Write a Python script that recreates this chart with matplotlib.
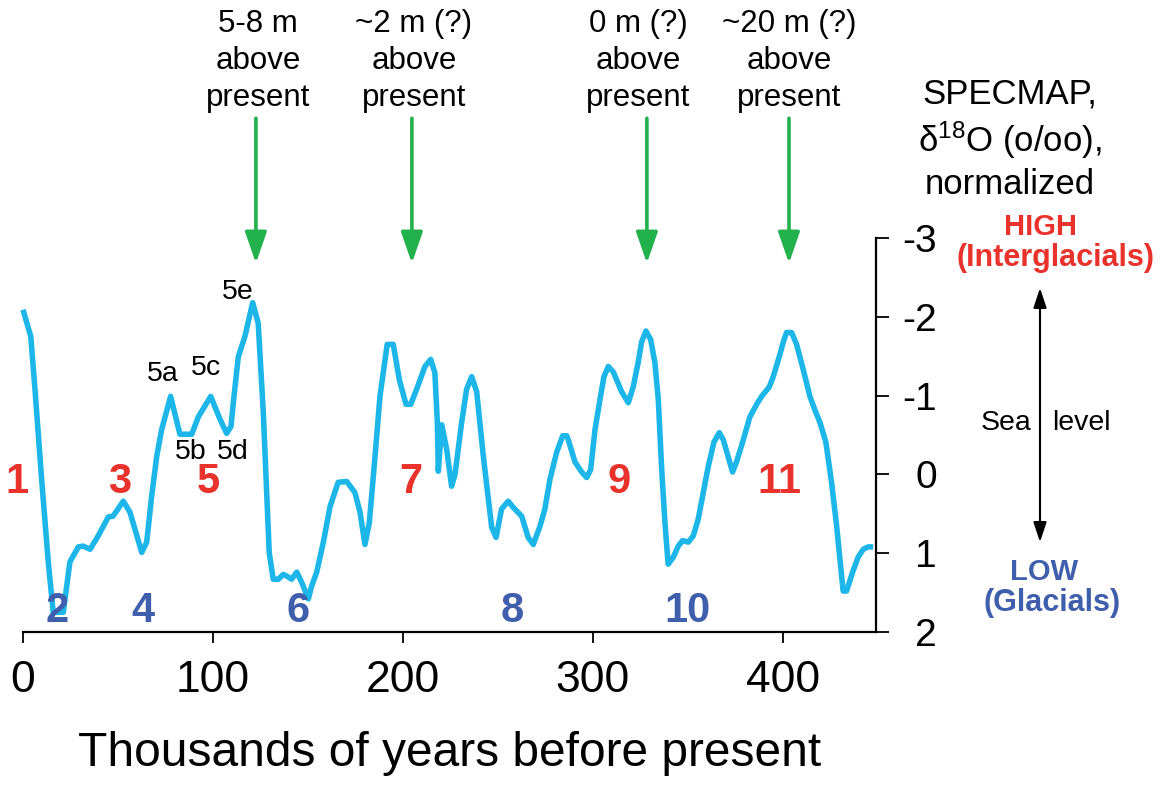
import matplotlib
matplotlib.use("Agg")
import matplotlib.pyplot as plt

plt.rcParams['font.family'] = ['Liberation Sans', 'DejaVu Sans']
plt.rcParams['axes.unicode_minus'] = False
plt.rcParams['mathtext.fontset'] = 'custom'
plt.rcParams['mathtext.rm'] = 'Liberation Sans'

# ---------------- data ----------------
age_kyr = [0.0, 4.1, 6.3, 9.8, 13.3, 15.9, 21.2, 24.7, 29.1, 31.7, 35.3, 39.6, 44.9, 47.4,
           52.8, 56.3, 62.5, 65.1, 67.7, 70.4, 73.0, 77.7, 82.6, 88.8, 92.3, 98.8, 103.7,
           107.2, 109.5, 110.7, 113.3, 116.8, 120.9, 123.8, 126.5, 129.6, 131.7, 134.4,
           137.0, 138.8, 141.4, 144.1, 146.7, 150.2, 151.9, 154.6, 158.1, 161.6, 165.9,
           170.4, 174.7, 177.4, 180.0, 182.3, 185.3, 187.9, 191.7, 194.9, 198.1, 201.6,
           204.1, 207.2, 211.6, 214.6, 216.8, 218.1, 218.6, 220.4, 223.0, 225.6, 227.4,
           230.9, 233.5, 236.2, 238.8, 242.3, 246.7, 249.0, 251.9, 255.4, 258.1, 262.5,
           265.9, 268.6, 272.1, 274.7, 277.4, 280.9, 284.1, 286.2, 287.0, 290.5, 294.1,
           296.7, 298.8, 301.1, 303.7, 305.8, 308.1, 310.7, 315.1, 318.6, 321.2, 323.8,
           325.6, 327.9, 330.4, 332.6, 334.4, 336.2, 337.9, 339.6, 342.3, 344.9, 347.2,
           350.2, 352.8, 355.4, 358.1, 360.7, 363.7, 366.5, 368.6, 371.2, 373.5, 375.6,
           378.8, 382.6, 386.2, 388.8, 392.8, 394.9, 398.4, 400.2, 401.9, 404.6, 407.2,
           410.7, 414.2, 416.8, 419.5, 422.6, 425.6, 428.3, 431.7, 433.5, 436.7, 439.6,
           442.3, 444.9, 447.5]
d18o = [-2.09, -1.75, -1.08, 0.06, 1.11, 1.75, 1.75, 1.11, 0.92, 0.91, 0.95, 0.78, 0.54, 0.53,
        0.34, 0.48, 0.99, 0.86, 0.28, -0.23, -0.57, -0.99, -0.51, -0.51, -0.73, -0.99, -0.70,
        -0.52, -0.61, -0.91, -1.49, -1.75, -2.18, -1.92, -0.78, 0.99, 1.33, 1.33,
        1.27, 1.29, 1.33, 1.24, 1.37, 1.58, 1.42, 1.24, 0.86, 0.41, 0.10,
        0.09, 0.23, 0.48, 0.89, 0.61, -0.23, -0.99, -1.65, -1.65, -1.20, -0.89,
        -0.89, -1.08, -1.37, -1.46, -1.29, -0.66, -0.04, -0.63, -0.32, 0.15, 0.00,
        -0.66, -1.08, -1.24, -1.05, -0.23, 0.67, 0.80, 0.44, 0.34, 0.42, 0.53,
        0.80, 0.89, 0.66, 0.44, 0.06, -0.28, -0.49, -0.49, -0.44, -0.16, -0.03,
        0.04, -0.06, -0.57, -0.95, -1.24, -1.37, -1.30, -1.05, -0.91, -1.11, -1.42,
        -1.68, -1.82, -1.71, -1.42, -0.95, -0.06, 0.61, 1.14, 1.05, 0.91, 0.84,
        0.86, 0.78, 0.57, 0.23, -0.10, -0.41, -0.53, -0.44, -0.22, -0.03, -0.16,
        -0.41, -0.73, -0.89, -0.99, -1.11, -1.24, -1.52, -1.68, -1.80, -1.80, -1.65,
        -1.33, -0.99, -0.82, -0.66, -0.41, 0.10, 0.66, 1.48, 1.48, 1.24, 1.05,
        0.95, 0.92, 0.92]

x_ticks = [0, 100, 200, 300, 400]
y_ticks = [-3, -2, -1, 0, 1, 2]
y_ticklabels = ['-3', '-2', '-1', '0', '1', '2']

interglacial_labels = ['1', '3', '5', '7', '9', '11']
interglacial_x = [-3.2, 51.0, 97.4, 204.2, 313.7, 397.9]
glacial_labels = ['2', '4', '6', '8', '10']
glacial_x = [17.9, 63.2, 144.7, 257.4, 350.0]
substage_labels = ['5a', '5b', '5c', '5d', '5e']
substage_x = [73.4, 88.4, 96.3, 110.5, 113.2]
substage_y = [-1.27, -0.28, -1.35, -0.28, -2.32]

sealevel_texts = ['5-8 m\nabove\npresent', '~2 m (?)\nabove\npresent',
                  '0 m (?)\nabove\npresent', '~20 m (?)\nabove\npresent']
sealevel_arrow_x = [122.6, 204.7, 328.4, 403.2]
sealevel_text_px = [258, 414, 638, 789]

# ---------------- style ----------------
W, H = 1167, 785
LINE = '#1db6e8'
GREEN = '#22b14c'
RED = '#e8322b'
BLUE = '#3f5eab'


def fp(x, y):
    return (x / W, 1 - y / H)


fig = plt.figure(figsize=(W / 100, H / 100), dpi=100)
ax = fig.add_axes([23 / W, 1 - 632 / H, (876 - 23) / W, (632 - 238) / H])
ax.set_xlim(0, 449)
ax.set_ylim(2, -3)

ax.plot(age_kyr, d18o, color=LINE, lw=4.0, solid_joinstyle='round',
        solid_capstyle='butt', zorder=3, clip_on=False)

for s in ['left', 'top']:
    ax.spines[s].set_visible(False)
for s in ['bottom', 'right']:
    ax.spines[s].set_linewidth(1.6)

ax.yaxis.tick_right()
ax.set_xticks(x_ticks)
ax.set_xticklabels([str(t) for t in x_ticks])
ax.set_yticks(y_ticks)
ax.set_yticklabels(y_ticklabels)
ax.tick_params(axis='x', direction='out', length=8, width=1.3, labelsize=32, pad=12)
ax.tick_params(axis='y', direction='out', length=9, width=1.3, labelsize=28, pad=35)
for lbl in ax.get_yticklabels():
    lbl.set_ha('right')

ax.set_xlabel('Thousands of years before present', fontsize=34.5)
ax.xaxis.set_label_coords(0.5, -0.25)

# MIS numbers
for lab, x in zip(interglacial_labels, interglacial_x):
    ax.text(x, 0.10, lab, color=RED, fontsize=30, fontweight='bold',
            ha='center', va='center', clip_on=False)
for lab, x in zip(glacial_labels, glacial_x):
    ax.text(x, 1.73, lab, color=BLUE, fontsize=30, fontweight='bold',
            ha='center', va='center', clip_on=False, zorder=4)
for lab, x, y in zip(substage_labels, substage_x, substage_y):
    ax.text(x, y, lab, color='black', fontsize=20.5, ha='center', va='center')

# top annotations with arrows
for txt, xa, xt in zip(sealevel_texts, sealevel_arrow_x, sealevel_text_px):
    fig.text(*fp(xt, 61), txt, ha='center', va='center', fontsize=22.5, linespacing=1.3)
    ax.annotate('', xy=(xa, -2.68), xytext=(xa, -4.52),
                arrowprops=dict(arrowstyle='-|>,head_length=0.95,head_width=0.33',
                                mutation_scale=20, color=GREEN, lw=2.6,
                                shrinkA=0, shrinkB=0),
                annotation_clip=False)

# right-hand legend text
fig.text(*fp(1010, 139), 'SPECMAP,\n$\\mathregular{\\delta^{18}}$O (o/oo),\nnormalized',
         ha='center', va='center', fontsize=25, linespacing=1.27)
fig.text(*fp(1040, 227), 'HIGH', ha='center', va='center', fontsize=21,
         fontweight='bold', color=RED)
fig.text(*fp(1056, 258), '(Interglacials)', ha='center', va='center', fontsize=22,
         fontweight='bold', color=RED)
fig.text(*fp(1044, 572), 'LOW', ha='center', va='center', fontsize=21,
         fontweight='bold', color=BLUE)
fig.text(*fp(1052, 603), '(Glacials)', ha='center', va='center', fontsize=22,
         fontweight='bold', color=BLUE)
fig.text(*fp(1031, 423), 'Sea', ha='right', va='center', fontsize=20.5)
fig.text(*fp(1052, 423), 'level', ha='left', va='center', fontsize=20.5)
fig.add_artist(matplotlib.patches.FancyArrowPatch(
    fp(1040, 288), fp(1040, 542), transform=fig.transFigure,
    arrowstyle='<|-|>,head_length=1.2,head_width=0.4', mutation_scale=10,
    color='black', lw=1.5, shrinkA=0, shrinkB=0))

fig.savefig('out.png', dpi=100)
